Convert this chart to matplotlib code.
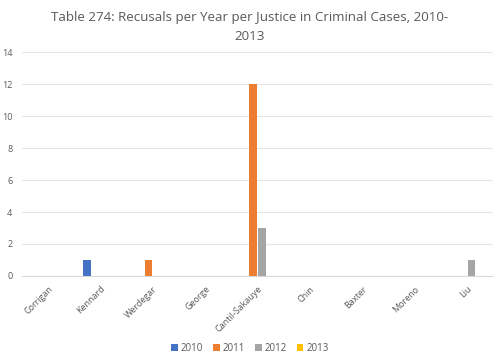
import matplotlib
matplotlib.use("Agg")
import matplotlib.pyplot as plt
import numpy as np

plt.rcParams['font.family'] = ['Open Sans', 'DejaVu Sans']

# data
justices = ["Corrigan", "Kennard", "Werdegar", "George", "Cantil-Sakauye",
            "Chin", "Baxter", "Moreno", "Liu"]
years = ["2010", "2011", "2012", "2013"]
recusals_2010 = [0, 1, 0, 0, 0, 0, 0, 0, 0]
recusals_2011 = [0, 0, 1, 0, 12, 0, 0, 0, 0]
recusals_2012 = [0, 0, 0, 0, 3, 0, 0, 0, 1]
recusals_2013 = [0, 0, 0, 0, 0, 0, 0, 0, 0]
yticks = [0, 2, 4, 6, 8, 10, 12, 14]

series = [recusals_2010, recusals_2011, recusals_2012, recusals_2013]
colors = ["#4472c4", "#ed7d31", "#a5a5a5", "#ffc000"]
txt = "#595959"

fig = plt.figure(figsize=(5, 3.57), dpi=100)
ax = fig.add_axes([0.044, 0.227, 0.942, 0.627])

x = np.arange(len(justices))
step = 0.172
width = 0.135
for i, (vals, c, yr) in enumerate(zip(series, colors, years)):
    ax.bar(x + (i - 1.5) * step, vals, width=width, color=c, label=yr, zorder=3)

ax.set_xlim(-0.5, len(justices) - 0.5)
ax.set_ylim(0, 14)
ax.set_yticks(yticks)
ax.set_xticks(x)
ax.set_xticklabels(justices, rotation=45, ha="right", rotation_mode="anchor")
ax.tick_params(axis="both", length=0, labelsize=6.5, colors=txt, pad=6)
ax.tick_params(axis="y", pad=7)
ax.grid(axis="y", color="#e6e6e6", linewidth=0.8, zorder=0)
for s in ["top", "right", "left"]:
    ax.spines[s].set_visible(False)
ax.spines["bottom"].set_color("#d9d9d9")

fig.suptitle("Table 274: Recusals per Year per Justice in Criminal Cases, 2010-\n2013",
             x=0.5, y=0.97, fontsize=9.6, color=txt, linespacing=1.6)

fig.legend(loc="lower center", ncol=4, bbox_to_anchor=(0.5, -0.015), frameon=False,
           fontsize=7, handlelength=0.7, handleheight=0.7, handletextpad=0.3,
           columnspacing=1.0, labelcolor=txt)

fig.savefig("out.png", dpi=100)
